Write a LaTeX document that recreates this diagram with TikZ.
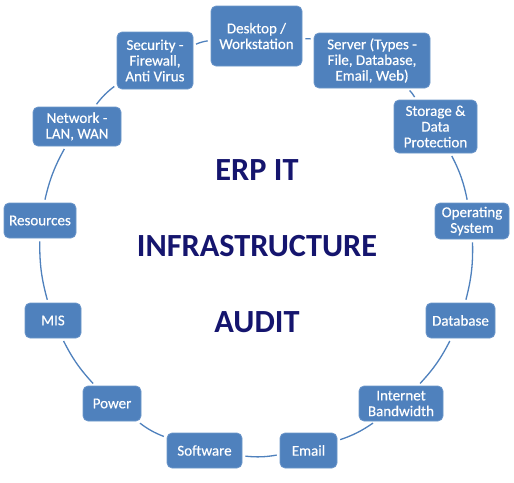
\documentclass[tikz,border=0pt]{standalone}
\usepackage{fontspec}
\setmainfont{Carlito}
\newfontfamily\boxfont[FakeBold=0.4]{Carlito}
\definecolor{boxblue}{HTML}{4F81BD}
\definecolor{boxedge}{HTML}{6E98CB}
\definecolor{navy}{HTML}{15156E}
\begin{document}
\begin{tikzpicture}[x=1pt,y=-1pt,
  box/.style={rectangle, rounded corners=5pt, fill=boxblue, draw=boxedge, line width=0.7pt,
    text=white, align=center, font=\boxfont\fontsize{15}{15.7}\selectfont, inner sep=1pt},
  conn/.style={draw=boxblue, line width=1.3pt, shorten >=3pt, shorten <=3pt},
  title/.style={text=navy, font=\fontsize{32.3}{36}\selectfont\bfseries, inner sep=0pt}]
\fill[white] (0,0) rectangle (514,482);
\useasboundingbox (0,0) rectangle (514,482);

\node[box, minimum width=91pt, minimum height=60pt] (desk) at (256.5,36) {Desktop /\\Workstation};
\node[box, minimum width=116pt, minimum height=55pt] (server) at (372,60.5) {Server (Types -\\File, Database,\\Email, Web)};
\node[box, minimum width=83pt, minimum height=53pt] (storage) at (435.5,126.5) {Storage \&\\Data\\Protection};
\node[box, minimum width=74pt, minimum height=36pt] (os) at (472,221) {Operating\\System};
\node[box, minimum width=69pt, minimum height=35pt] (db) at (460.5,320.5) {Database};
\node[box, minimum width=84pt, minimum height=35pt] (inet) at (401,403.5) {Internet\\Bandwidth};
\node[box, minimum width=57pt, minimum height=35pt] (email) at (308.5,450.5) {Email};
\node[box, minimum width=75pt, minimum height=35pt] (soft) at (204.5,450.5) {Software};
\node[box, minimum width=58pt, minimum height=35pt] (power) at (112,403.5) {Power};
\node[box, minimum width=56pt, minimum height=35pt] (mis) at (53,320.5) {MIS};
\node[box, minimum width=72pt, minimum height=35pt] (res) at (40,220.5) {Resources};
\node[box, minimum width=88pt, minimum height=39pt] (net) at (77,126.5) {Network -\\LAN, WAN};
\node[box, minimum width=76pt, minimum height=57pt] (sec) at (155,60.5) {Security -\\Firewall,\\Anti Virus};

\draw[conn] (desk) to[bend left=8] (server);
\draw[conn] (server) to[bend left=8] (storage);
\draw[conn] (storage) to[bend left=8] (os);
\draw[conn] (os) to[bend left=8] (db);
\draw[conn] (db) to[bend left=8] (inet);
\draw[conn] (inet) to[bend left=8] (email);
\draw[conn] (email) to[bend left=8] (soft);
\draw[conn] (soft) to[bend left=8] (power);
\draw[conn] (power) to[bend left=8] (mis);
\draw[conn] (mis) to[bend left=8] (res);
\draw[conn] (res) to[bend left=8] (net);
\draw[conn] (net) to[bend left=8] (sec);
\draw[conn] (sec) to[bend left=8] (desk);

\node[title] (t1) at (257,170) {ERP IT};
\node[title] (t2) at (257,246) {INFRASTRUCTURE};
\node[title] (t3) at (257,322) {AUDIT};
\end{tikzpicture}
\end{document}
